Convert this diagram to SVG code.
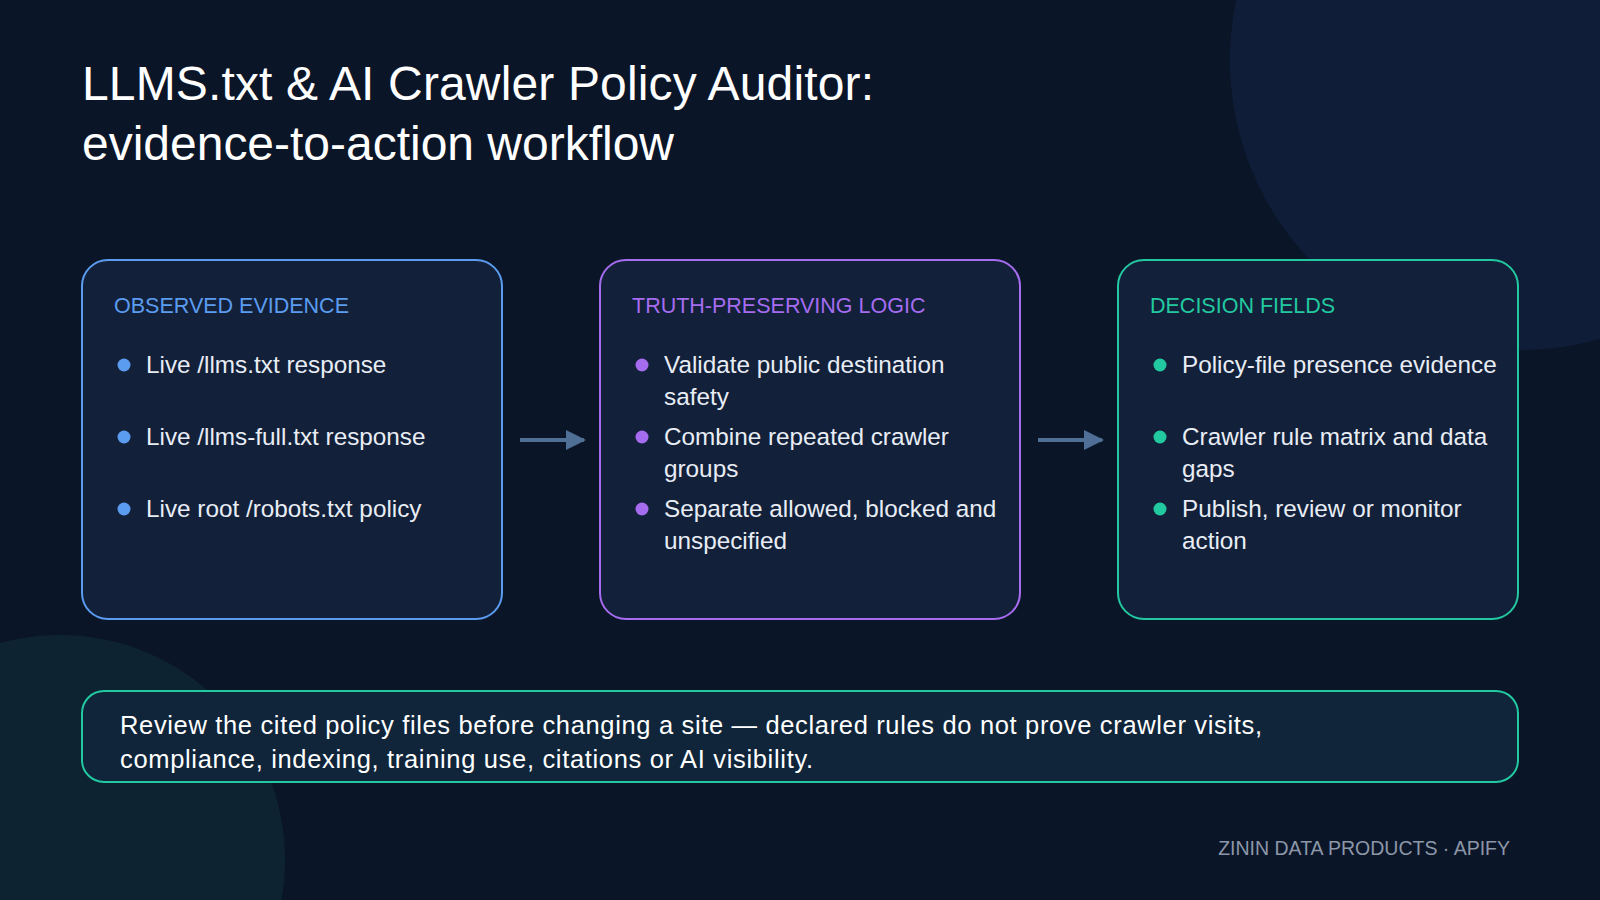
<svg xmlns="http://www.w3.org/2000/svg" width="1600" height="900" viewBox="0 0 1600 900">
<style>
text{font-family:"Liberation Sans",Arial,sans-serif}
.t{fill:#ffffff;font-size:48px}
.h{font-size:21.5px}
.b{fill:#e8edf5;font-size:24.3px}
.n{fill:#ffffff;font-size:25.5px}
.box{fill:#122039;stroke-width:2}
</style>
<defs>
<marker id="ah" viewBox="0 0 10 10" refX="9" refY="5" markerWidth="5" markerHeight="5" orient="auto"><path d="M0,0L10,5L0,10z" fill="#4f6f96"/></marker>
</defs>
<rect width="1600" height="900" fill="#0b1528"/>
<circle cx="1520" cy="60" r="290" fill="#13254a" opacity="0.5"/>
<circle cx="60" cy="860" r="225" fill="#0f2a36" opacity="0.7"/>
<text class="t" x="82" y="100" textLength="792">LLMS.txt &amp; AI Crawler Policy Auditor:</text>
<text class="t" x="82" y="160" textLength="592">evidence-to-action workflow</text>
<g id="n1">
<rect class="box" x="82" y="260" width="420" height="359" rx="26" stroke="#5b9cf0"/>
<text class="h" x="114" y="313" fill="#5b9cf0">OBSERVED EVIDENCE</text>
<g fill="#5b9cf0"><circle cx="124" cy="365" r="6.5"/><circle cx="124" cy="437" r="6.5"/><circle cx="124" cy="509" r="6.5"/></g>
<text class="b" x="146" y="373">Live /llms.txt response</text>
<text class="b" x="146" y="445">Live /llms-full.txt response</text>
<text class="b" x="146" y="517">Live root /robots.txt policy</text>
</g>
<g id="n2">
<rect class="box" x="600" y="260" width="420" height="359" rx="26" stroke="#a56cf0"/>
<text class="h" x="632" y="313" fill="#a56cf0">TRUTH-PRESERVING LOGIC</text>
<g fill="#a56cf0"><circle cx="642" cy="365" r="6.5"/><circle cx="642" cy="437" r="6.5"/><circle cx="642" cy="509" r="6.5"/></g>
<text class="b" x="664" y="373">Validate public destination</text>
<text class="b" x="664" y="405">safety</text>
<text class="b" x="664" y="445">Combine repeated crawler</text>
<text class="b" x="664" y="477">groups</text>
<text class="b" x="664" y="517">Separate allowed, blocked and</text>
<text class="b" x="664" y="549">unspecified</text>
</g>
<g id="n3">
<rect class="box" x="1118" y="260" width="400" height="359" rx="26" stroke="#22c9a0"/>
<text class="h" x="1150" y="313" fill="#22c9a0">DECISION FIELDS</text>
<g fill="#22c9a0"><circle cx="1160" cy="365" r="6.5"/><circle cx="1160" cy="437" r="6.5"/><circle cx="1160" cy="509" r="6.5"/></g>
<text class="b" x="1182" y="373">Policy-file presence evidence</text>
<text class="b" x="1182" y="445">Crawler rule matrix and data</text>
<text class="b" x="1182" y="477">gaps</text>
<text class="b" x="1182" y="517">Publish, review or monitor</text>
<text class="b" x="1182" y="549">action</text>
</g>
<g id="connectors" stroke="#4f6f96" stroke-width="4">
<line x1="520" y1="440" x2="584" y2="440" marker-end="url(#ah)"/>
<line x1="1038" y1="440" x2="1102" y2="440" marker-end="url(#ah)"/>
</g>
<g id="note">
<rect x="82" y="691" width="1436" height="91" rx="22" fill="#10253a" stroke="#22c9a0" stroke-width="2"/>
<text class="n" x="120" y="734" textLength="1142">Review the cited policy files before changing a site — declared rules do not prove crawler visits,</text>
<text class="n" x="120" y="768" textLength="693">compliance, indexing, training use, citations or AI visibility.</text>
</g>
<text x="1510" y="855" text-anchor="end" font-size="19.5" fill="#8c97a8">ZININ DATA PRODUCTS · APIFY</text>
</svg>
